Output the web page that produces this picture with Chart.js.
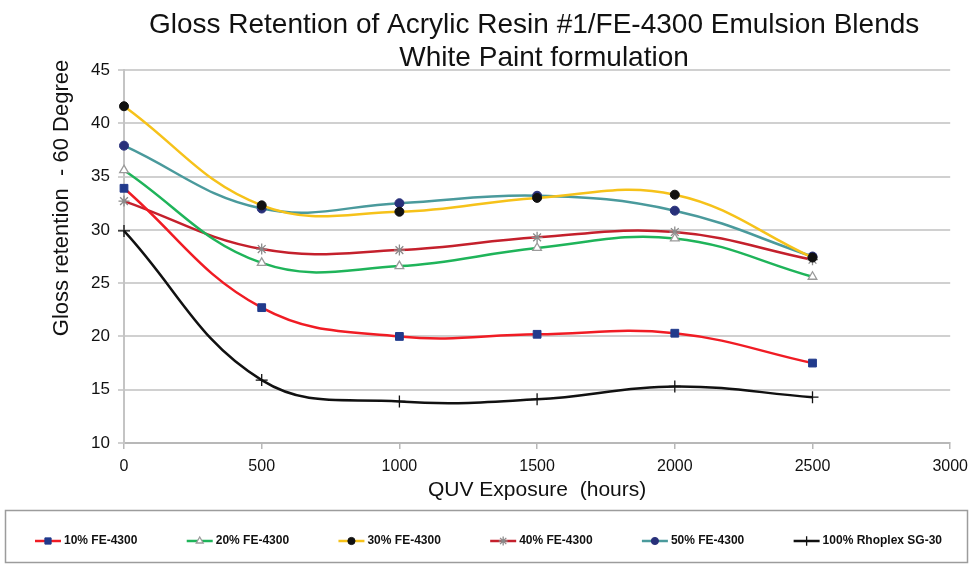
<!DOCTYPE html>
<html>
<head>
<meta charset="utf-8">
<title>Gloss Retention</title>
<script src="https://cdn.jsdelivr.net/npm/chart.js@4.4.1/dist/chart.umd.min.js"></script>
<style>
  html, body { margin: 0; padding: 0; background: #fff; }
  #wrap { width: 976px; height: 567px; }
</style>
</head>
<body>
<div id="wrap"><canvas id="glossChart" width="976" height="567"></canvas></div>
<script>
// QUV exposure in hours and gloss retention (60 degree) per blend
const hours = [0, 500, 1000, 1500, 2000, 2500];
const fe10 = [33.9, 22.7, 20.0, 20.2, 20.3, 17.5];
const fe20 = [35.6, 26.9, 26.6, 28.3, 29.2, 25.6];
const fe30 = [41.6, 32.3, 31.7, 33.0, 33.3, 27.4];
const fe40 = [32.7, 28.2, 28.1, 29.3, 29.8, 27.2];
const fe50 = [37.9, 32.0, 32.5, 33.2, 31.8, 27.5];
const rhoplex = [29.9, 15.9, 13.9, 14.1, 15.3, 14.3];

const seriesLabels = ["10% FE-4300", "20% FE-4300", "30% FE-4300", "40% FE-4300", "50% FE-4300", "100% Rhoplex SG-30"];
const titleLines = ["Gloss Retention of Acrylic Resin #1/FE-4300 Emulsion Blends", "White Paint formulation"];
const yAxisTitle = "Gloss retention  - 60 Degree";
const xAxisTitle = "QUV Exposure  (hours)";

const FONT = "'Liberation Sans', Arial, sans-serif";

function toPoints(values) {
  return hours.map((h, i) => ({ x: h, y: values[i] }));
}

function series(label, values, line, style) {
  return {
    label,
    data: toPoints(values),
    borderColor: line,
    borderWidth: 2.5,
    tension: 0.4,
    clip: false,
    pointStyle: style.shape,
    pointRadius: style.radius,
    pointBackgroundColor: style.fill,
    pointBorderColor: style.stroke,
    pointBorderWidth: style.width,
  };
}

const datasets = [
  series(seriesLabels[0], fe10, "#f01c24", { shape: "rect", radius: 5.5, fill: "#213a8c", stroke: "#213a8c", width: 1 }),
  series(seriesLabels[1], fe20, "#1fb45a", { shape: "triangle", radius: 5, fill: "#ffffff", stroke: "#9a9a9a", width: 1.3 }),
  series(seriesLabels[2], fe30, "#f6c21a", { shape: "circle", radius: 4.5, fill: "#111111", stroke: "#111111", width: 1 }),
  series(seriesLabels[3], fe40, "#c4202c", { shape: "star", radius: 5.5, fill: "#8a8a8a", stroke: "#8a8a8a", width: 1.3 }),
  series(seriesLabels[4], fe50, "#4a9a9c", { shape: "circle", radius: 4.5, fill: "#28307a", stroke: "#28307a", width: 1 }),
  series(seriesLabels[5], rhoplex, "#111111", { shape: "cross", radius: 6, fill: "#111111", stroke: "#111111", width: 1.3 }),
];

// titles, y axis title and the boxed legend under the plot
const decorations = {
  id: "decorations",
  afterDraw(chart) {
    const { ctx, chartArea } = chart;
    ctx.save();
    ctx.fillStyle = "#111";
    ctx.textAlign = "center";
    ctx.textBaseline = "alphabetic";
    ctx.font = "28px " + FONT;
    const cx = (chartArea.left + chartArea.right) / 2;
    ctx.fillText(titleLines[0], cx - 3, 33);
    ctx.fillText(titleLines[1], cx + 7, 66);

    ctx.translate(62, 198);
    ctx.rotate(-Math.PI / 2);
    ctx.textBaseline = "middle";
    ctx.font = "22px " + FONT;
    ctx.fillText(yAxisTitle, 0, 0);
    ctx.restore();

    // legend box
    ctx.save();
    ctx.strokeStyle = "#9c9c9c";
    ctx.lineWidth = 1.5;
    ctx.strokeRect(5.5, 510.5, 962, 52);

    ctx.font = "bold 12px " + FONT;
    ctx.textBaseline = "middle";
    ctx.textAlign = "left";
    const lineLen = 26, gap = 3;
    const widths = chart.data.datasets.map((d) => lineLen + gap + ctx.measureText(d.label).width);
    const spanStart = 35, spanEnd = 942;
    const spacing = (spanEnd - spanStart - widths.reduce((a, b) => a + b, 0)) / (widths.length - 1);
    let x = spanStart;
    const y = 541;
    chart.data.datasets.forEach((d, i) => {
      ctx.strokeStyle = d.borderColor;
      ctx.lineWidth = 2.5;
      ctx.beginPath();
      ctx.moveTo(x, y);
      ctx.lineTo(x + lineLen, y);
      ctx.stroke();
      ctx.fillStyle = d.pointBackgroundColor;
      ctx.strokeStyle = d.pointBorderColor;
      ctx.lineWidth = d.pointBorderWidth;
      Chart.helpers.drawPoint(ctx, { pointStyle: d.pointStyle, radius: d.pointRadius * 0.8, rotation: 0, borderWidth: d.pointBorderWidth }, x + lineLen / 2, y);
      ctx.fillStyle = "#111";
      ctx.fillText(d.label, x + lineLen + gap, y);
      x += widths[i] + spacing;
    });
    ctx.restore();
  },
};

new Chart(document.getElementById("glossChart"), {
  type: "line",
  data: { datasets },
  options: {
    responsive: false,
    animation: false,
    layout: { padding: { top: 70, right: 23, bottom: 62, left: 0 } },
    plugins: {
      legend: { display: false },
      title: { display: false },
      tooltip: { enabled: false },
    },
    scales: {
      x: {
        type: "linear",
        min: 0,
        max: 3000,
        ticks: { stepSize: 500, padding: 8, color: "#111", font: { family: FONT, size: 16 }, callback: (v) => String(v) },
        grid: { drawOnChartArea: false, drawTicks: true, tickLength: 6, color: "#b8b8b8", lineWidth: 1.5 },
        border: { display: true, color: "#b8b8b8", width: 2 },
        title: { display: true, text: xAxisTitle, color: "#111", font: { family: FONT, size: 21 }, padding: { top: 0, bottom: 2 } },
        afterFit(scale) { scale.height = 62; },
      },
      y: {
        min: 10,
        max: 45,
        ticks: { stepSize: 5, padding: 8, color: "#111", font: { family: FONT, size: 17 } },
        grid: { color: "#d0d0d0", lineWidth: 2, tickLength: 6 },
        border: { display: true, color: "#c4c4c4", width: 2 },
        afterFit(scale) { scale.width = 124; },
      },
    },
  },
  plugins: [decorations],
});
</script>
</body>
</html>
